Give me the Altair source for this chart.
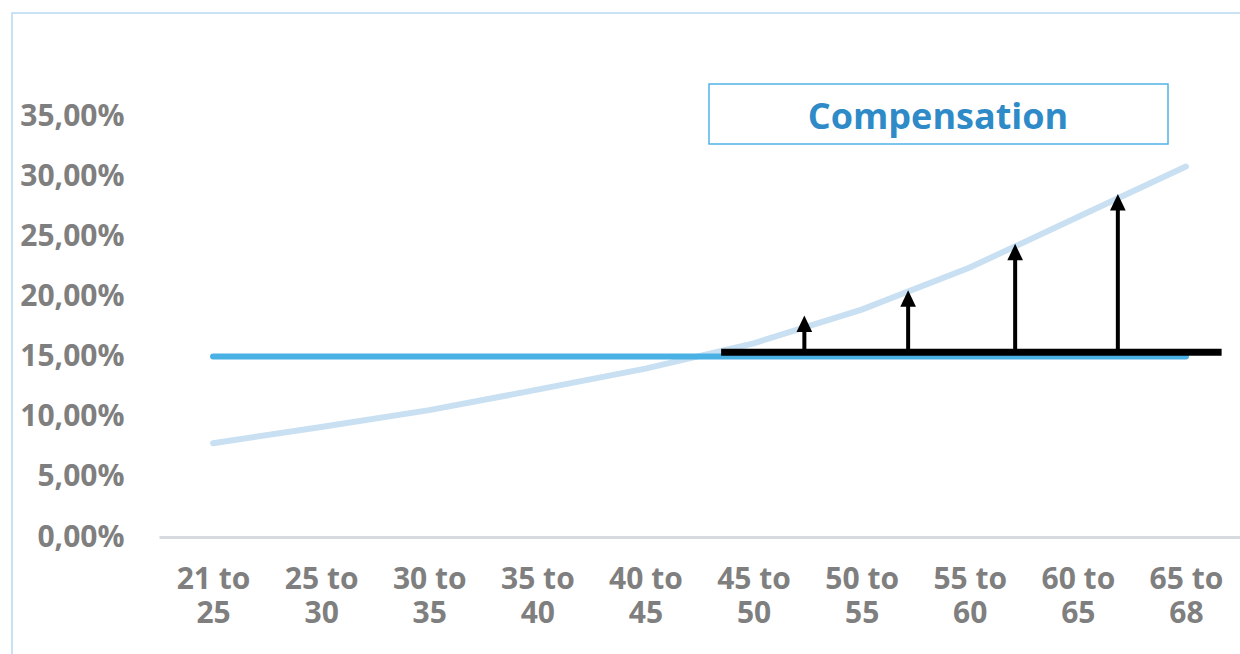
import json

import altair as alt
import pandas as pd

# Age bands on the horizontal axis
age_bands = ["21 to 25", "25 to 30", "30 to 35", "35 to 40", "40 to 45",
             "45 to 50", "50 to 55", "55 to 60", "60 to 65", "65 to 68"]

# Rising required rate by age band
required_rate = [0.078, 0.0915, 0.1055, 0.1225, 0.140,
                 0.161, 0.189, 0.224, 0.266, 0.308]

# Flat contribution rate
flat_rate = [0.15, 0.15, 0.15, 0.15, 0.15, 0.15, 0.15, 0.15, 0.15, 0.15]

# Compensation bar (level and extent along the band axis)
comp_level = 0.1535
comp_start = 5.20
comp_end = 9.83

# Compensation arrows: position along the band axis and arrow tip value
arrow_x = [5.97, 6.93, 7.92, 8.87]
arrow_top = [0.184, 0.205, 0.2435, 0.285]

legend_label = "Compensation"
y_ticks = [0.0, 0.05, 0.10, 0.15, 0.20, 0.25, 0.30, 0.35]

FONT = "Open Sans"
GREY = "#7f7f7f"
W, H = 1081, 421

centers = [i + 0.5 for i in range(len(age_bands))]
band_lines = [b.rsplit(" ", 1) for b in age_bands]

df = pd.DataFrame({
    "pos": centers,
    "band": age_bands,
    "required": required_rate,
    "flat": flat_rate,
})
bar_df = pd.DataFrame({"x0": [comp_start], "x1": [comp_end], "level": [comp_level]})
arrow_df = pd.DataFrame({"x": arrow_x, "top": arrow_top,
                         "base": [comp_level] * len(arrow_x)})
label_df = pd.DataFrame({"t": [legend_label]})

xs = alt.Scale(domain=[0, len(age_bands)], nice=False, zero=False)
ys = alt.Scale(domain=[0, 0.35], nice=False)

x_axis = alt.Axis(
    values=centers,
    labelExpr=json.dumps(band_lines) + "[floor(datum.value)]",
    title=None, grid=False, ticks=False,
    domainColor="#d6d9de", domainWidth=3,
    labelFont=FONT, labelFontSize=30, labelFontWeight="bold",
    labelColor=GREY, labelPadding=27, labelLineHeight=34,
    labelAngle=0, labelFlush=False, labelOverlap=False,
)
y_axis = alt.Axis(
    values=y_ticks,
    labelExpr="replace(format(datum.value, '.2%'), '.', ',')",
    title=None, grid=False, ticks=False, domain=False,
    labelFont=FONT, labelFontSize=30, labelFontWeight="bold",
    labelColor=GREY, labelPadding=35,
)

frame = alt.Chart(label_df).mark_rect(
    fillOpacity=0, stroke="#c9e2f3", strokeWidth=2
).encode(
    x=alt.value(-147), x2=alt.value(1400), y=alt.value(-103), y2=alt.value(800)
)

curve = alt.Chart(df).mark_line(
    color="#c8e0f2", strokeWidth=6, strokeCap="round"
).encode(
    x=alt.X("pos:Q", scale=xs, axis=x_axis),
    y=alt.Y("required:Q", scale=ys, axis=y_axis),
)

flat = alt.Chart(df).mark_line(
    color="#4ab1e5", strokeWidth=6, strokeCap="round"
).encode(x="pos:Q", y="flat:Q")

bar = alt.Chart(bar_df).mark_rule(color="black", strokeWidth=7).encode(
    x="x0:Q", x2="x1:Q", y="level:Q"
)

shafts = alt.Chart(arrow_df).mark_rule(
    color="black", strokeWidth=4, y2Offset=10
).encode(x="x:Q", y="base:Q", y2="top:Q")

heads = alt.Chart(arrow_df).mark_point(
    shape="M0,-1L-0.95,1L0.95,1Z", size=272, filled=True,
    color="black", opacity=1, yOffset=8
).encode(x="x:Q", y="top:Q")

legend_box = alt.Chart(label_df).mark_rect(
    fill="white", stroke="#51b3e8", strokeWidth=1.5
).encode(
    x=alt.value(550), x2=alt.value(1009), y=alt.value(-32), y2=alt.value(28)
)

legend_text = alt.Chart(label_df).mark_text(
    font=FONT, fontSize=36, fontWeight="bold", color="#2f8ac8",
    align="center", baseline="middle"
).encode(x=alt.value(779), y=alt.value(2), text="t:N")

chart = alt.layer(
    frame, curve, flat, bar, shafts, heads, legend_box, legend_text
).properties(
    width=W, height=H,
    padding={"left": 159, "top": 116, "right": 0, "bottom": 117},
    autosize=alt.AutoSizeParams(type="none"),
    background="white",
).configure_view(stroke=None)

chart.save("out.html", embed_options={"renderer": "svg", "actions": False})
